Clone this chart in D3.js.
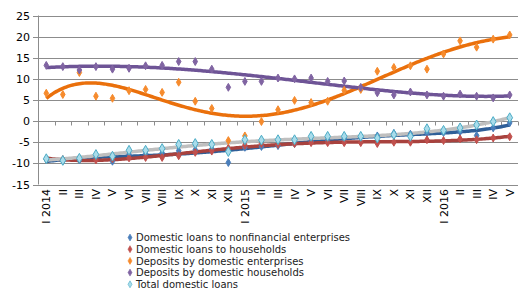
<!DOCTYPE html>
<html>
<head>
<meta charset="utf-8">
<script src="https://cdn.jsdelivr.net/npm/d3@7"></script>
<style>
  body { margin: 0; background: #fff; }
  svg { display: block; font-family: 'DejaVu Sans', Verdana, sans-serif; }
</style>
</head>
<body>
<svg width="528" height="291"></svg>
<script>
// months I 2014 .. V 2016
const months = ['I 2014','II','III','IV','V','VI','VII','VIII','IX','X','XI','XII',
    'I 2015','II','III','IV','V','VI','VII','VIII','IX','X','XI','XII',
    'I 2016','II','III','IV','V'];

const loansNonfin = [-9.0, -9.4, -9.2, -8.7, -9.5, -7.9, -7.7, -7.5, -7.0, -6.8, -6.6, -9.8,
    -6.2, -6.0, -5.8, -5.3, -4.8, -4.5, -4.2, -3.8, -3.5, -2.9, -3.1, -2.8, -2.7, -2.5, -3.4, -1.6, -0.4];
const loansHouse = [-9.0, -9.1, -9.0, -9.2, -8.9, -8.7, -8.6, -8.6, -8.2, -7.4, -7.1, -6.4,
    -5.7, -5.3, -5.5, -5.3, -5.1, -5.1, -5.1, -5.1, -5.3, -5.0, -5.0, -4.4, -4.6, -4.2, -4.4, -4.0, -3.7];
const depEnt = [6.6, 6.3, 11.5, 5.9, 5.4, 7.2, 7.5, 6.8, 9.2, 4.7, 3.0, -4.6,
    -3.5, -0.1, 2.7, 4.9, 4.4, 4.7, 7.3, 7.5, 11.8, 12.7, 13.1, 12.3, 15.9, 19.0, 17.5, 19.4, 20.4];
const depHouse = [13.2, 12.9, 12.1, 12.9, 12.3, 12.5, 13.1, 13.2, 14.1, 14.1, 12.3, 8.0,
    9.4, 9.4, 10.2, 10.0, 10.2, 9.4, 9.5, 8.0, 6.7, 6.2, 6.9, 6.2, 5.9, 6.4, 5.9, 5.5, 6.2];
const loansTotal = [-8.9, -9.3, -8.8, -7.9, -8.3, -6.9, -6.9, -6.5, -5.5, -5.3, -5.5, -7.2,
    -4.4, -4.5, -4.4, -4.4, -3.6, -3.6, -3.6, -3.6, -4.0, -3.2, -3.6, -1.8, -2.2, -1.6, -0.9, -0.1, 0.8];

const yTicks = [25, 20, 15, 10, 5, 0, -5, -10, -15];

const series = [
    {name: 'Domestic loans to nonfinancial enterprises', values: loansNonfin, mark: '#4A7EBB', stroke: '#4A7EBB', trend: '#2F5F98', size: 18},
    {name: 'Domestic loans to households', values: loansHouse, mark: '#C0504D', stroke: '#C0504D', trend: '#A8423E', size: 18},
    {name: 'Deposits by domestic enterprises', values: depEnt, mark: '#F68B2D', stroke: '#F68B2D', trend: '#EA700C', size: 18},
    {name: 'Deposits by domestic households', values: depHouse, mark: '#8064A2', stroke: '#8064A2', trend: '#6E5496', size: 18},
    {name: 'Total domestic loans', values: loansTotal, mark: '#A9DCEB', stroke: '#4BACC6', trend: '#BFBFBF', size: 28}
];

const svg = d3.select('svg');
const plot = {l: 38, r: 518, t: 15.5, b: 184.5};

const x = d3.scaleBand().domain(d3.range(months.length)).range([plot.l, plot.r]);
const cx = i => x(i) + x.bandwidth() / 2;
const xi = d3.scaleLinear().domain([0, months.length - 1]).range([cx(0), cx(months.length - 1)]);
const y = d3.scaleLinear().domain([-15, 25]).range([plot.b, plot.t]);

// polynomial least squares (order 5), like an excel trendline
function polyFit(vals, order) {
    const n = vals.length, mid = (n - 1) / 2;
    const ts = vals.map((v, i) => (i - mid) / mid);
    const m = order + 1;
    const A = d3.range(m).map(() => new Array(m + 1).fill(0));
    ts.forEach((t, k) => {
        for (let r = 0; r < m; r++) {
            for (let c = 0; c < m; c++) A[r][c] += Math.pow(t, r + c);
            A[r][m] += Math.pow(t, r) * vals[k];
        }
    });
    for (let p = 0; p < m; p++) {
        let best = p;
        for (let r = p + 1; r < m; r++) if (Math.abs(A[r][p]) > Math.abs(A[best][p])) best = r;
        [A[p], A[best]] = [A[best], A[p]];
        for (let r = 0; r < m; r++) {
            if (r === p) continue;
            const f = A[r][p] / A[p][p];
            for (let c = p; c <= m; c++) A[r][c] -= f * A[p][c];
        }
    }
    const coef = A.map((row, r) => row[m] / row[r]);
    return i => {
        const t = (i - mid) / mid;
        return coef.reduce((s, a, k) => s + a * Math.pow(t, k), 0);
    };
}

// gridlines
svg.append('g')
    .selectAll('line')
    .data(yTicks)
    .join('line')
    .attr('x1', plot.l - 5).attr('x2', plot.r)
    .attr('y1', d => Math.round(y(d)) + 0.5).attr('y2', d => Math.round(y(d)) + 0.5)
    .attr('stroke', '#8c8c8c');

svg.append('line')
    .attr('x1', plot.l + 0.5).attr('x2', plot.l + 0.5)
    .attr('y1', y(25)).attr('y2', y(-15))
    .attr('stroke', '#8c8c8c');

// y labels
svg.append('g')
    .selectAll('text')
    .data(yTicks)
    .join('text')
    .attr('x', 30)
    .attr('y', d => y(d) + 4)
    .attr('text-anchor', 'end')
    .style('font-size', '11px')
    .text(d => d);

// category ticks on the zero line
const y0 = Math.round(y(0)) + 0.5;
svg.append('g')
    .selectAll('line')
    .data(d3.range(months.length + 1))
    .join('line')
    .attr('x1', i => Math.round(plot.l + i * x.bandwidth()) + 0.5)
    .attr('x2', i => Math.round(plot.l + i * x.bandwidth()) + 0.5)
    .attr('y1', y0).attr('y2', y0 + 4)
    .attr('stroke', '#8c8c8c');

// month labels, rotated
svg.append('g')
    .selectAll('text')
    .data(months)
    .join('text')
    .attr('transform', (d, i) => `translate(${cx(i) + 4},189) rotate(-90)`)
    .attr('text-anchor', 'end')
    .style('font-size', '11px')
    .text(d => d);

// trend lines
const line = d3.line().x(d => xi(d[0])).y(d => y(d[1]));
const steps = d3.range(0, months.length - 1 + 0.001, 0.1);
svg.append('g')
    .selectAll('path')
    .data(series)
    .join('path')
    .attr('d', s => {
        const f = polyFit(s.values, 5);
        return line(steps.map(i => [i, f(i)]));
    })
    .attr('fill', 'none')
    .attr('stroke', s => s.trend)
    .attr('stroke-width', 3.5);

// markers
const diamond = d3.symbol().type(d3.symbolDiamond);
series.forEach(s => {
    svg.append('g')
        .selectAll('path')
        .data(s.values)
        .join('path')
        .attr('transform', (d, i) => `translate(${cx(i)},${y(d)})`)
        .attr('d', diamond.size(s.size)())
        .attr('fill', s.mark)
        .attr('stroke', s.stroke)
        .attr('stroke-width', 1);
});

// legend
const legend = svg.append('g').attr('transform', 'translate(130,237.5)');
series.forEach((s, i) => {
    legend.append('path')
        .attr('transform', `translate(0,${i * 11.7})`)
        .attr('d', d3.symbol().type(d3.symbolDiamond).size(14)())
        .attr('fill', s.mark)
        .attr('stroke', s.stroke)
        .attr('stroke-width', 0.6);
    legend.append('text')
        .attr('x', 6)
        .attr('y', i * 11.7 + 3.6)
        .style('font-size', '10px')
        .attr('fill', '#222')
        .text(s.name);
});
</script>
</body>
</html>
